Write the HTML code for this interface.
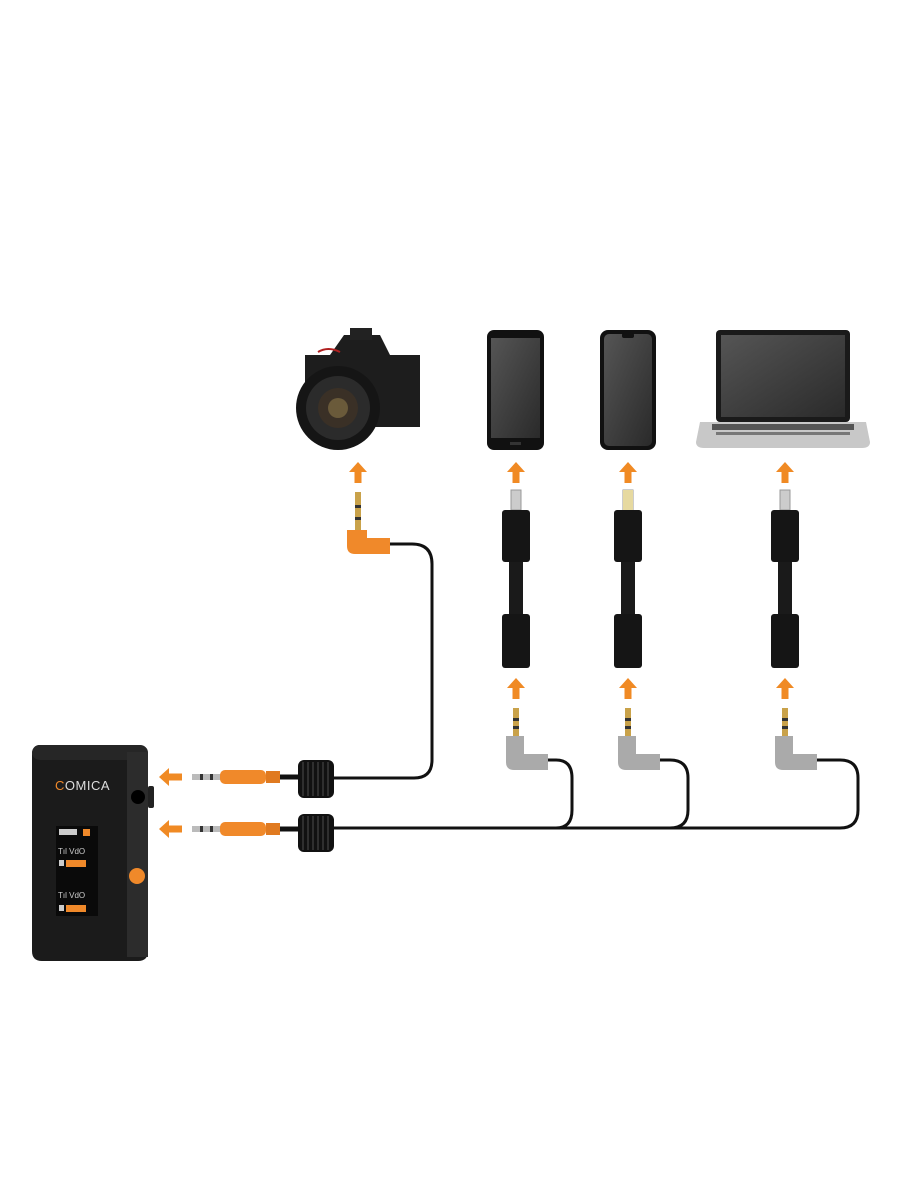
<!DOCTYPE html>
<html><head><meta charset="utf-8"><style>
html,body{margin:0;padding:0;background:#fff;}
svg{display:block;}
</style></head><body>
<svg width="900" height="1200" viewBox="0 0 900 1200" xmlns="http://www.w3.org/2000/svg">
<defs>
<linearGradient id="scr" x1="0" y1="0" x2="1" y2="1"><stop offset="0" stop-color="#555"/><stop offset="1" stop-color="#2a2a2a"/></linearGradient>
<g id="up"><rect x="-3.5" y="8" width="7" height="12" fill="#f08a24"/><polygon points="-9,9 9,9 0,-1" fill="#f08a24"/></g>
<g id="left"><rect x="8" y="-3.5" width="14" height="7" fill="#f08a24"/><polygon points="9,-9 9,9 -1,0" fill="#f08a24"/></g>
<g id="adapter">
<rect x="-5" y="0" width="10" height="20" fill="#ccc" stroke="#999"/>
<rect x="-14" y="20" width="28" height="52" rx="3" fill="#151515"/>
<rect x="-7" y="72" width="14" height="52" fill="#1a1a1a"/>
<rect x="-14" y="124" width="28" height="54" rx="3" fill="#151515"/>
</g>
<g id="gjack">
<rect x="-3" y="0" width="6" height="28" fill="#c9a24a"/>
<rect x="-3" y="10" width="6" height="3" fill="#333"/>
<rect x="-3" y="18" width="6" height="3" fill="#333"/>
<path d="M-10 28 h18 v18 h24 v16 h-34 q-8 0 -8 -8 z" fill="#aaa"/>
</g>
<g id="coil">
<rect x="0" y="0" width="36" height="38" rx="6" fill="#111"/>
<g stroke="#444" stroke-width="1.2"><line x1="5" y1="2" x2="5" y2="36"/><line x1="10" y1="2" x2="10" y2="36"/><line x1="15" y1="2" x2="15" y2="36"/><line x1="20" y1="2" x2="20" y2="36"/><line x1="25" y1="2" x2="25" y2="36"/><line x1="30" y1="2" x2="30" y2="36"/></g>
</g>
<g id="plug">
<rect x="0" y="-3" width="30" height="6" fill="#bbb"/>
<rect x="8" y="-3" width="3" height="6" fill="#333"/><rect x="18" y="-3" width="3" height="6" fill="#333"/>
<rect x="28" y="-7" width="46" height="14" rx="5" fill="#f0892a"/>
<rect x="74" y="-6" width="14" height="12" fill="#e07a20"/>
<rect x="88" y="-2.5" width="20" height="5" fill="#111"/>
</g>
</defs>

<!-- camera -->
<path d="M305 355 h25 l14 -20 h36 l10 20 h30 v72 h-115 z" fill="#1d1d1d"/>
<rect x="350" y="328" width="22" height="12" fill="#222"/>
<circle cx="338" cy="408" r="42" fill="#151515"/>
<circle cx="338" cy="408" r="32" fill="#2b2b2b"/>
<circle cx="338" cy="408" r="20" fill="#3a3026"/>
<circle cx="338" cy="408" r="10" fill="#6a5a3a"/>
<path d="M318 352 q10 -6 22 0" stroke="#b02020" stroke-width="2" fill="none"/>

<!-- phone 1 -->
<rect x="487" y="330" width="57" height="120" rx="7" fill="#111"/>
<rect x="491" y="338" width="49" height="100" fill="url(#scr)"/>
<rect x="510" y="442" width="11" height="3" fill="#333"/>
<!-- phone 2 -->
<rect x="600" y="330" width="56" height="120" rx="8" fill="#111"/>
<rect x="604" y="334" width="48" height="112" rx="5" fill="url(#scr)"/>
<rect x="622" y="333" width="12" height="5" rx="2" fill="#111"/>
<!-- laptop -->
<rect x="716" y="330" width="134" height="92" rx="4" fill="#1a1a1a"/>
<rect x="721" y="335" width="124" height="82" fill="url(#scr)"/>
<path d="M700 422 h166 l4 20 q0 6 -8 6 h-158 q-8 0 -8 -6 z" fill="#c8c8c8"/>
<rect x="712" y="424" width="142" height="6" fill="#555"/>
<rect x="716" y="432" width="134" height="3" fill="#777"/>

<!-- up arrows -->
<use href="#up" x="358" y="463"/><use href="#up" x="516" y="463"/><use href="#up" x="628" y="463"/><use href="#up" x="785" y="463"/>
<use href="#up" x="516" y="679"/><use href="#up" x="628" y="679"/><use href="#up" x="785" y="679"/>

<!-- adapters -->
<use href="#adapter" x="516" y="490"/><use href="#adapter" x="628" y="490"/><use href="#adapter" x="785" y="490"/>
<rect x="623" y="490" width="10" height="20" fill="#e6d9a0"/>

<!-- cables -->
<g fill="none" stroke="#111" stroke-width="3">
<path d="M390 544 H412 Q432 544 432 564 V760 Q432 778 414 778 H300"/>
<path d="M300 828 H840 Q858 828 858 810 V778 Q858 760 840 760 H812"/>
<path d="M542 760 H556 Q572 760 572 778 V810 Q572 828 556 828"/>
<path d="M654 760 H670 Q688 760 688 778 V810 Q688 828 670 828"/>
</g>

<!-- camera jack -->
<rect x="355" y="492" width="6" height="40" fill="#c9a24a"/>
<rect x="355" y="505" width="6" height="3" fill="#333"/><rect x="355" y="517" width="6" height="3" fill="#333"/>
<path d="M347 530 h20 v8 h23 v16 h-35 q-8 0 -8 -8 z" fill="#f0892a"/>

<!-- grey jacks -->
<use href="#gjack" x="516" y="708"/><use href="#gjack" x="628" y="708"/><use href="#gjack" x="785" y="708"/>

<!-- plugs and coils -->
<use href="#plug" x="192" y="777"/><use href="#plug" x="192" y="829"/>
<use href="#coil" x="298" y="760"/><use href="#coil" x="298" y="814"/>
<use href="#left" x="160" y="777"/><use href="#left" x="160" y="829"/>

<!-- receiver -->
<path d="M40 745 h98 q10 0 10 10 v196 q0 10 -10 10 h-96 q-10 0 -10 -10 v-196 q0 -10 8 -10z" fill="#1b1b1b"/>
<rect x="32" y="745" width="116" height="15" rx="8" fill="#262626"/>
<rect x="127" y="752" width="21" height="205" fill="#2c2c2c"/>
<circle cx="138" cy="797" r="7" fill="#000"/>
<rect x="148" y="786" width="6" height="22" rx="2" fill="#222"/>
<text x="55" y="790" font-family="Liberation Sans, sans-serif" font-size="13" fill="#ddd" letter-spacing="0.5"><tspan fill="#f0892a">C</tspan>OMICA</text>
<rect x="56" y="826" width="42" height="90" fill="#0a0a0a"/>
<rect x="59" y="829" width="18" height="6" fill="#ccc"/><rect x="83" y="829" width="7" height="7" fill="#f0892a"/>
<text x="58" y="854" font-family="Liberation Sans, sans-serif" font-size="8" fill="#ccc">Tıl VdO</text>
<rect x="59" y="860" width="5" height="6" fill="#ccc"/><rect x="66" y="860" width="20" height="7" fill="#f0892a"/>
<text x="58" y="898" font-family="Liberation Sans, sans-serif" font-size="8" fill="#ccc">Tıl VdO</text>
<rect x="59" y="905" width="5" height="6" fill="#ccc"/><rect x="66" y="905" width="20" height="7" fill="#f0892a"/>
<circle cx="137" cy="876" r="8" fill="#f0892a"/>
</svg>
</body></html>
